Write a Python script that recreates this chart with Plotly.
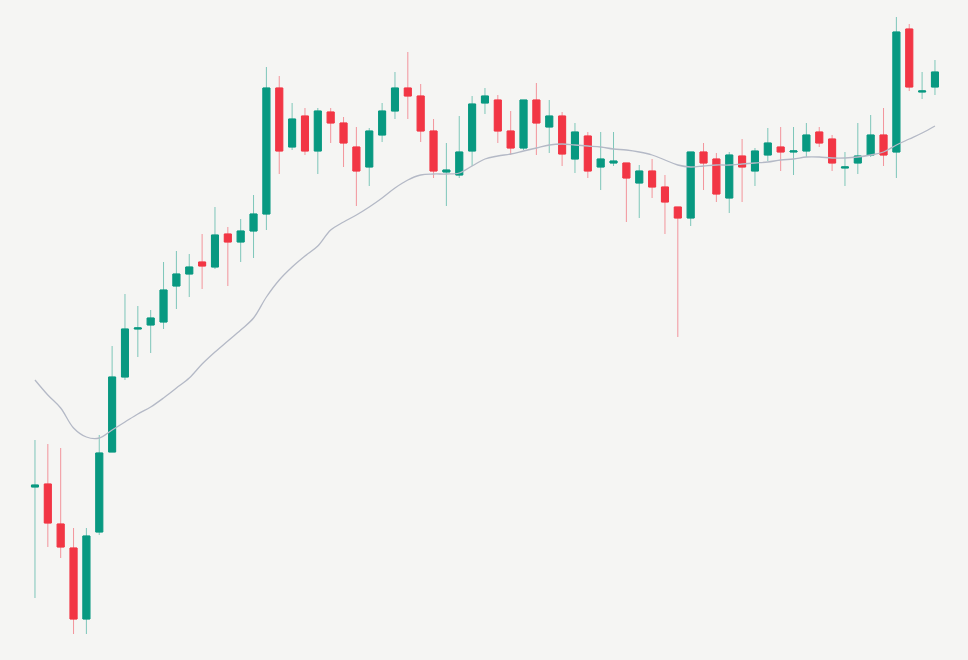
import plotly.graph_objects as go

# Prices (arbitrary units)
opens = [17.3, 17.6, 13.6, 11.2, 4.1, 12.8, 20.8, 28.3, 33.1, 33.5,
         33.8, 37.4, 38.6, 39.8, 39.3, 42.6, 41.8, 42.9, 44.6, 57.2,
         51.3, 54.4, 50.9, 54.8, 53.7, 51.3, 49.3, 52.5, 54.9, 57.2,
         56.4, 52.9, 48.8, 48.5, 50.9, 55.7, 56.0, 52.9, 51.2, 56.0,
         53.3, 54.4, 50.1, 52.4, 49.3, 49.7, 49.7, 47.7, 48.9, 47.3,
         45.3, 44.2, 50.8, 50.1, 46.2, 50.4, 48.9, 50.5, 51.3, 50.8,
         50.9, 52.8, 52.1, 49.2, 49.7, 50.5, 52.5, 50.8, 63.1, 56.8, 57.3]
closes = [17.5, 13.7, 11.3, 4.1, 12.4, 20.7, 28.3, 33.1, 33.2, 34.2,
          37.0, 38.6, 39.3, 39.4, 42.5, 41.8, 42.9, 44.6, 57.2, 50.9,
          54.1, 50.9, 54.9, 53.7, 51.7, 48.9, 52.9, 54.9, 57.2, 56.4,
          52.9, 48.9, 49.0, 50.8, 55.6, 56.4, 52.9, 51.2, 56.0, 53.7,
          54.4, 50.6, 52.8, 48.9, 50.1, 49.9, 48.2, 48.9, 47.3, 45.8,
          44.2, 50.8, 49.7, 46.6, 50.5, 49.3, 50.9, 51.7, 50.8, 50.9,
          52.5, 51.7, 49.7, 49.3, 50.4, 52.5, 50.5, 62.8, 57.3, 56.9, 58.8]
highs = [22.0, 21.6, 21.2, 13.2, 13.2, 22.5, 31.4, 36.6, 35.4, 35.0,
         39.8, 40.9, 40.6, 42.6, 45.3, 43.3, 44.1, 46.5, 59.3, 58.4,
         55.7, 55.2, 55.2, 55.2, 54.3, 53.3, 53.2, 55.7, 58.8, 60.8,
         57.6, 54.1, 51.7, 54.4, 56.4, 57.2, 56.5, 54.9, 56.0, 57.7,
         56.0, 54.8, 53.7, 52.8, 52.8, 52.8, 49.7, 49.5, 50.1, 48.5,
         45.3, 50.8, 51.7, 50.7, 50.8, 52.1, 51.2, 53.2, 53.3, 53.3,
         53.7, 53.3, 52.5, 50.8, 53.7, 54.5, 55.2, 64.3, 63.6, 58.8, 60.0]
lows = [6.2, 11.3, 10.2, 2.6, 2.6, 12.5, 20.8, 28.0, 30.3, 30.7,
        33.1, 35.1, 36.3, 37.1, 39.1, 37.4, 39.8, 40.2, 43.0, 48.6,
        51.0, 50.5, 48.6, 51.7, 49.3, 45.4, 47.4, 51.8, 54.1, 54.1,
        51.8, 48.2, 45.4, 48.2, 49.4, 54.6, 51.7, 50.5, 51.0, 50.5,
        50.7, 49.4, 48.7, 48.2, 47.0, 49.4, 43.8, 44.2, 46.2, 42.6,
        32.3, 43.4, 47.0, 45.8, 44.7, 45.8, 47.4, 49.9, 48.9, 48.5,
        50.3, 51.3, 48.9, 47.4, 48.6, 50.3, 49.4, 48.2, 56.9, 56.1, 56.5]
ma = [28.0, 26.5, 25.2, 23.2, 22.3, 22.2, 23.0, 23.8, 24.6, 25.3,
      26.2, 27.2, 28.2, 29.6, 30.8, 31.9, 33.0, 34.2, 36.3, 38.0,
      39.3, 40.4, 41.4, 43.0, 43.8, 44.5, 45.3, 46.2, 47.2, 48.0,
      48.5, 48.6, 48.6, 48.7, 49.4, 50.1, 50.4, 50.6, 50.9, 51.2,
      51.5, 51.6, 51.5, 51.4, 51.3, 51.1, 51.0, 50.8, 50.5, 50.0,
      49.5, 49.3, 49.4, 49.5, 49.5, 49.6, 49.7, 49.8, 50.0, 50.1,
      50.3, 50.3, 50.2, 50.2, 50.3, 50.5, 50.8, 51.5, 52.1, 52.7, 53.4]

idx = list(range(len(opens)))
body_hi = [max(o, c) for o, c in zip(opens, closes)]
body_lo = [min(o, c) for o, c in zip(opens, closes)]

GREEN = "#089981"
RED = "#F23645"
BG = "#F5F5F3"

fig = go.Figure()
# wicks (lighter)
fig.add_trace(go.Candlestick(
    x=idx, open=opens, high=highs, low=lows, close=closes,
    increasing=dict(line=dict(color="rgba(8,153,129,0.5)", width=1), fillcolor="rgba(0,0,0,0)"),
    decreasing=dict(line=dict(color="rgba(242,54,69,0.5)", width=1), fillcolor="rgba(0,0,0,0)"),
    showlegend=False, hoverinfo="skip"))
# bodies
fig.add_trace(go.Candlestick(
    x=idx, open=opens, high=body_hi, low=body_lo, close=closes,
    increasing=dict(line=dict(color=GREEN, width=1), fillcolor=GREEN),
    decreasing=dict(line=dict(color=RED, width=1), fillcolor=RED),
    showlegend=False))
# moving average
fig.add_trace(go.Scatter(x=idx, y=ma, mode="lines",
                         line=dict(color="#B4B9C6", width=1.3, shape="spline"),
                         showlegend=False, hoverinfo="skip"))

fig.update_layout(
    width=968, height=660,
    margin=dict(l=0, r=0, t=0, b=0),
    paper_bgcolor=BG, plot_bgcolor=BG,
    boxgap=0.22,
    xaxis=dict(range=[-2.72, 72.57], visible=False, rangeslider=dict(visible=False)),
    yaxis=dict(range=[0, 66], visible=False),
)

fig.write_html("out.html",
               config={"displayModeBar": False},
               post_script="document.body.style.margin='0';document.body.style.background='#F5F5F3';")
